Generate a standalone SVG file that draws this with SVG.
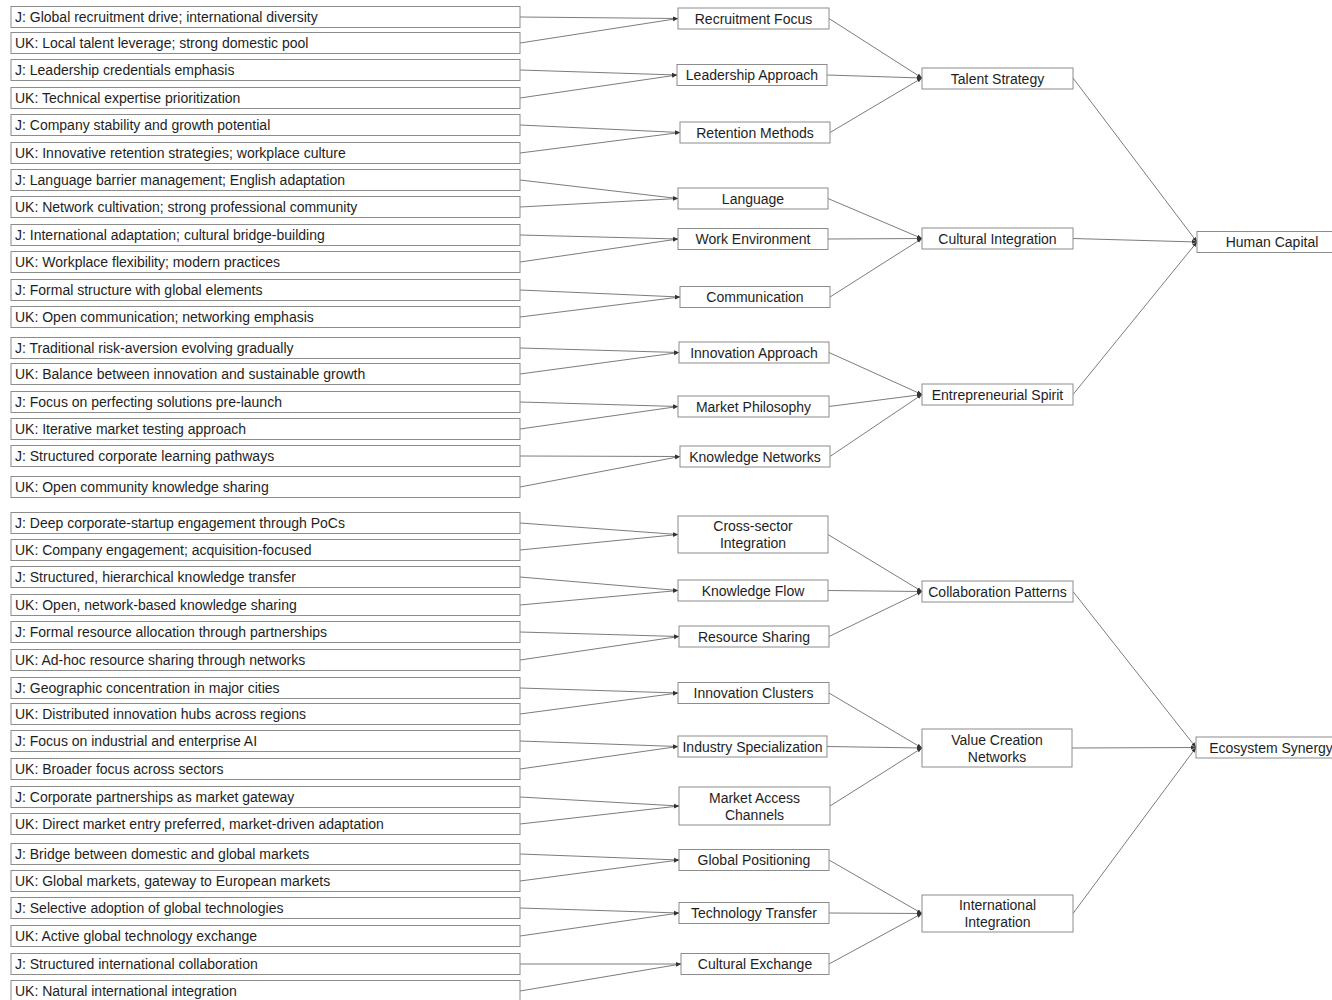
<svg xmlns="http://www.w3.org/2000/svg" width="1332" height="1000" viewBox="0 0 1332 1000">
<style>
.box{fill:#fff;stroke:#8c8c8c;stroke-width:1}
.lt{font-family:"Liberation Sans",Arial,sans-serif;font-size:14px;fill:#1e1e1e;dominant-baseline:central}
.ct{font-family:"Liberation Sans",Arial,sans-serif;font-size:14px;fill:#1e1e1e;text-anchor:middle;dominant-baseline:central}
.e{stroke:#5a5a5a;stroke-width:0.8;fill:none;marker-end:url(#ah)}
</style>
<defs>
<marker id="ah" markerUnits="userSpaceOnUse" markerWidth="6" markerHeight="5" refX="5" refY="2.5" orient="auto">
<path d="M0,0.5 L5,2.5 L0,4.5 z" fill="#333"/>
</marker>
</defs>
<rect width="1332" height="1000" fill="#fff"/>
<g id="connectors">
<line class="e" x1="520" y1="17" x2="678" y2="18.5"/>
<line class="e" x1="520" y1="43" x2="678" y2="18.5"/>
<line class="e" x1="520" y1="70" x2="677" y2="75"/>
<line class="e" x1="520" y1="98" x2="677" y2="75"/>
<line class="e" x1="520" y1="125" x2="680" y2="132.5"/>
<line class="e" x1="520" y1="153" x2="680" y2="132.5"/>
<line class="e" x1="520" y1="180" x2="678" y2="198.5"/>
<line class="e" x1="520" y1="207" x2="678" y2="198.5"/>
<line class="e" x1="520" y1="235" x2="678" y2="239"/>
<line class="e" x1="520" y1="262" x2="678" y2="239"/>
<line class="e" x1="520" y1="290" x2="680" y2="297"/>
<line class="e" x1="520" y1="317" x2="680" y2="297"/>
<line class="e" x1="520" y1="348" x2="679" y2="352.5"/>
<line class="e" x1="520" y1="374" x2="679" y2="352.5"/>
<line class="e" x1="520" y1="402" x2="678" y2="406.5"/>
<line class="e" x1="520" y1="429" x2="678" y2="406.5"/>
<line class="e" x1="520" y1="456" x2="680" y2="456.5"/>
<line class="e" x1="520" y1="487" x2="680" y2="456.5"/>
<line class="e" x1="520" y1="523" x2="678" y2="534.5"/>
<line class="e" x1="520" y1="550" x2="678" y2="534.5"/>
<line class="e" x1="520" y1="577" x2="678" y2="590.5"/>
<line class="e" x1="520" y1="605" x2="678" y2="590.5"/>
<line class="e" x1="520" y1="632" x2="679" y2="636.5"/>
<line class="e" x1="520" y1="660" x2="679" y2="636.5"/>
<line class="e" x1="520" y1="688" x2="678" y2="693"/>
<line class="e" x1="520" y1="714" x2="678" y2="693"/>
<line class="e" x1="520" y1="741" x2="678" y2="746.5"/>
<line class="e" x1="520" y1="769" x2="678" y2="746.5"/>
<line class="e" x1="520" y1="797" x2="679" y2="806"/>
<line class="e" x1="520" y1="824" x2="679" y2="806"/>
<line class="e" x1="520" y1="854" x2="679" y2="860"/>
<line class="e" x1="520" y1="881" x2="679" y2="860"/>
<line class="e" x1="520" y1="908" x2="679" y2="913"/>
<line class="e" x1="520" y1="936" x2="679" y2="913"/>
<line class="e" x1="520" y1="964" x2="681" y2="964"/>
<line class="e" x1="520" y1="991" x2="681" y2="964"/>
<line class="e" x1="829" y1="18.5" x2="922" y2="78"/>
<line class="e" x1="827" y1="75" x2="922" y2="78"/>
<line class="e" x1="830" y1="132.5" x2="922" y2="78"/>
<line class="e" x1="828" y1="198.5" x2="922" y2="238.5"/>
<line class="e" x1="828" y1="239" x2="922" y2="238.5"/>
<line class="e" x1="830" y1="297" x2="922" y2="238.5"/>
<line class="e" x1="829" y1="352.5" x2="922" y2="394.5"/>
<line class="e" x1="829" y1="406.5" x2="922" y2="394.5"/>
<line class="e" x1="830" y1="456.5" x2="922" y2="394.5"/>
<line class="e" x1="828" y1="534.5" x2="922" y2="591.5"/>
<line class="e" x1="828" y1="590.5" x2="922" y2="591.5"/>
<line class="e" x1="829" y1="636.5" x2="922" y2="591.5"/>
<line class="e" x1="829" y1="693" x2="922" y2="748"/>
<line class="e" x1="827" y1="746.5" x2="922" y2="748"/>
<line class="e" x1="830" y1="806" x2="922" y2="748"/>
<line class="e" x1="829" y1="860" x2="922" y2="913.5"/>
<line class="e" x1="829" y1="913" x2="922" y2="913.5"/>
<line class="e" x1="829" y1="964" x2="922" y2="913.5"/>
<line class="e" x1="1073" y1="78" x2="1197" y2="242"/>
<line class="e" x1="1073" y1="238.5" x2="1197" y2="242"/>
<line class="e" x1="1073" y1="394.5" x2="1197" y2="242"/>
<line class="e" x1="1073" y1="591.5" x2="1196" y2="747.5"/>
<line class="e" x1="1072" y1="748" x2="1196" y2="747.5"/>
<line class="e" x1="1073" y1="913.5" x2="1196" y2="747.5"/>
</g>
<g id="leaf1"><rect class="box" x="11" y="6.5" width="509" height="21"/><text class="lt" x="15" y="17">J: Global recruitment drive; international diversity</text></g>
<g id="leaf2"><rect class="box" x="11" y="32.5" width="509" height="21"/><text class="lt" x="15" y="43">UK: Local talent leverage; strong domestic pool</text></g>
<g id="leaf3"><rect class="box" x="11" y="59.5" width="509" height="21"/><text class="lt" x="15" y="70">J: Leadership credentials emphasis</text></g>
<g id="leaf4"><rect class="box" x="11" y="87.5" width="509" height="21"/><text class="lt" x="15" y="98">UK: Technical expertise prioritization</text></g>
<g id="leaf5"><rect class="box" x="11" y="114.5" width="509" height="21"/><text class="lt" x="15" y="125">J: Company stability and growth potential</text></g>
<g id="leaf6"><rect class="box" x="11" y="142.5" width="509" height="21"/><text class="lt" x="15" y="153">UK: Innovative retention strategies; workplace culture</text></g>
<g id="leaf7"><rect class="box" x="11" y="169.5" width="509" height="21"/><text class="lt" x="15" y="180">J: Language barrier management; English adaptation</text></g>
<g id="leaf8"><rect class="box" x="11" y="196.5" width="509" height="21"/><text class="lt" x="15" y="207">UK: Network cultivation; strong professional community</text></g>
<g id="leaf9"><rect class="box" x="11" y="224.5" width="509" height="21"/><text class="lt" x="15" y="235">J: International adaptation; cultural bridge-building</text></g>
<g id="leaf10"><rect class="box" x="11" y="251.5" width="509" height="21"/><text class="lt" x="15" y="262">UK: Workplace flexibility; modern practices</text></g>
<g id="leaf11"><rect class="box" x="11" y="279.5" width="509" height="21"/><text class="lt" x="15" y="290">J: Formal structure with global elements</text></g>
<g id="leaf12"><rect class="box" x="11" y="306.5" width="509" height="21"/><text class="lt" x="15" y="317">UK: Open communication; networking emphasis</text></g>
<g id="leaf13"><rect class="box" x="11" y="337.5" width="509" height="21"/><text class="lt" x="15" y="348">J: Traditional risk-aversion evolving gradually</text></g>
<g id="leaf14"><rect class="box" x="11" y="363.5" width="509" height="21"/><text class="lt" x="15" y="374">UK: Balance between innovation and sustainable growth</text></g>
<g id="leaf15"><rect class="box" x="11" y="391.5" width="509" height="21"/><text class="lt" x="15" y="402">J: Focus on perfecting solutions pre-launch</text></g>
<g id="leaf16"><rect class="box" x="11" y="418.5" width="509" height="21"/><text class="lt" x="15" y="429">UK: Iterative market testing approach</text></g>
<g id="leaf17"><rect class="box" x="11" y="445.5" width="509" height="21"/><text class="lt" x="15" y="456">J: Structured corporate learning pathways</text></g>
<g id="leaf18"><rect class="box" x="11" y="476.5" width="509" height="21"/><text class="lt" x="15" y="487">UK: Open community knowledge sharing</text></g>
<g id="leaf19"><rect class="box" x="11" y="512.5" width="509" height="21"/><text class="lt" x="15" y="523">J: Deep corporate-startup engagement through PoCs</text></g>
<g id="leaf20"><rect class="box" x="11" y="539.5" width="509" height="21"/><text class="lt" x="15" y="550">UK: Company engagement; acquisition-focused</text></g>
<g id="leaf21"><rect class="box" x="11" y="566.5" width="509" height="21"/><text class="lt" x="15" y="577">J: Structured, hierarchical knowledge transfer</text></g>
<g id="leaf22"><rect class="box" x="11" y="594.5" width="509" height="21"/><text class="lt" x="15" y="605">UK: Open, network-based knowledge sharing</text></g>
<g id="leaf23"><rect class="box" x="11" y="621.5" width="509" height="21"/><text class="lt" x="15" y="632">J: Formal resource allocation through partnerships</text></g>
<g id="leaf24"><rect class="box" x="11" y="649.5" width="509" height="21"/><text class="lt" x="15" y="660">UK: Ad-hoc resource sharing through networks</text></g>
<g id="leaf25"><rect class="box" x="11" y="677.5" width="509" height="21"/><text class="lt" x="15" y="688">J: Geographic concentration in major cities</text></g>
<g id="leaf26"><rect class="box" x="11" y="703.5" width="509" height="21"/><text class="lt" x="15" y="714">UK: Distributed innovation hubs across regions</text></g>
<g id="leaf27"><rect class="box" x="11" y="730.5" width="509" height="21"/><text class="lt" x="15" y="741">J: Focus on industrial and enterprise AI</text></g>
<g id="leaf28"><rect class="box" x="11" y="758.5" width="509" height="21"/><text class="lt" x="15" y="769">UK: Broader focus across sectors</text></g>
<g id="leaf29"><rect class="box" x="11" y="786.5" width="509" height="21"/><text class="lt" x="15" y="797">J: Corporate partnerships as market gateway</text></g>
<g id="leaf30"><rect class="box" x="11" y="813.5" width="509" height="21"/><text class="lt" x="15" y="824">UK: Direct market entry preferred, market-driven adaptation</text></g>
<g id="leaf31"><rect class="box" x="11" y="843.5" width="509" height="21"/><text class="lt" x="15" y="854">J: Bridge between domestic and global markets</text></g>
<g id="leaf32"><rect class="box" x="11" y="870.5" width="509" height="21"/><text class="lt" x="15" y="881">UK: Global markets, gateway to European markets</text></g>
<g id="leaf33"><rect class="box" x="11" y="897.5" width="509" height="21"/><text class="lt" x="15" y="908">J: Selective adoption of global technologies</text></g>
<g id="leaf34"><rect class="box" x="11" y="925.5" width="509" height="21"/><text class="lt" x="15" y="936">UK: Active global technology exchange</text></g>
<g id="leaf35"><rect class="box" x="11" y="953.5" width="509" height="21"/><text class="lt" x="15" y="964">J: Structured international collaboration</text></g>
<g id="leaf36"><rect class="box" x="11" y="980.5" width="509" height="21"/><text class="lt" x="15" y="991">UK: Natural international integration</text></g>
<g id="recruitment-focus"><rect class="box" x="678" y="8" width="151" height="21"/><text class="ct" x="753.5" y="18.5">Recruitment Focus</text></g>
<g id="leadership-approach"><rect class="box" x="677" y="64.5" width="150" height="21"/><text class="ct" x="752" y="75">Leadership Approach</text></g>
<g id="retention-methods"><rect class="box" x="680" y="122" width="150" height="21"/><text class="ct" x="755" y="132.5">Retention Methods</text></g>
<g id="language"><rect class="box" x="678" y="188" width="150" height="21"/><text class="ct" x="753" y="198.5">Language</text></g>
<g id="work-environment"><rect class="box" x="678" y="228.5" width="150" height="21"/><text class="ct" x="753" y="239">Work Environment</text></g>
<g id="communication"><rect class="box" x="680" y="286.5" width="150" height="21"/><text class="ct" x="755" y="297">Communication</text></g>
<g id="innovation-approach"><rect class="box" x="679" y="342" width="150" height="21"/><text class="ct" x="754" y="352.5">Innovation Approach</text></g>
<g id="market-philosophy"><rect class="box" x="678" y="396" width="151" height="21"/><text class="ct" x="753.5" y="406.5">Market Philosophy</text></g>
<g id="knowledge-networks"><rect class="box" x="680" y="446" width="150" height="21"/><text class="ct" x="755" y="456.5">Knowledge Networks</text></g>
<g id="cross-sector-integration"><rect class="box" x="678" y="516" width="150" height="37"/><text class="ct" x="753" y="526">Cross-sector</text><text class="ct" x="753" y="543">Integration</text></g>
<g id="knowledge-flow"><rect class="box" x="678" y="580" width="150" height="21"/><text class="ct" x="753" y="590.5">Knowledge Flow</text></g>
<g id="resource-sharing"><rect class="box" x="679" y="626" width="150" height="21"/><text class="ct" x="754" y="636.5">Resource Sharing</text></g>
<g id="innovation-clusters"><rect class="box" x="678" y="682.5" width="151" height="21"/><text class="ct" x="753.5" y="693">Innovation Clusters</text></g>
<g id="industry-specialization"><rect class="box" x="678" y="736" width="149" height="21"/><text class="ct" x="752.5" y="746.5">Industry Specialization</text></g>
<g id="market-access-channels"><rect class="box" x="679" y="787" width="151" height="38"/><text class="ct" x="754.5" y="797.5">Market Access</text><text class="ct" x="754.5" y="814.5">Channels</text></g>
<g id="global-positioning"><rect class="box" x="679" y="849.5" width="150" height="21"/><text class="ct" x="754" y="860">Global Positioning</text></g>
<g id="technology-transfer"><rect class="box" x="679" y="902.5" width="150" height="21"/><text class="ct" x="754" y="913">Technology Transfer</text></g>
<g id="cultural-exchange"><rect class="box" x="681" y="953.5" width="148" height="21"/><text class="ct" x="755" y="964">Cultural Exchange</text></g>
<g id="talent-strategy"><rect class="box" x="922" y="68" width="151" height="21"/><text class="ct" x="997.5" y="78.5">Talent Strategy</text></g>
<g id="cultural-integration"><rect class="box" x="922" y="228" width="151" height="21"/><text class="ct" x="997.5" y="238.5">Cultural Integration</text></g>
<g id="entrepreneurial-spirit"><rect class="box" x="922" y="384" width="151" height="21"/><text class="ct" x="997.5" y="394.5">Entrepreneurial Spirit</text></g>
<g id="collaboration-patterns"><rect class="box" x="922" y="581" width="151" height="21"/><text class="ct" x="997.5" y="591.5">Collaboration Patterns</text></g>
<g id="value-creation-networks"><rect class="box" x="922" y="729" width="150" height="38"/><text class="ct" x="997" y="739.5">Value Creation</text><text class="ct" x="997" y="756.5">Networks</text></g>
<g id="international-integration"><rect class="box" x="922" y="895" width="151" height="37"/><text class="ct" x="997.5" y="905">International</text><text class="ct" x="997.5" y="922">Integration</text></g>
<g id="human-capital"><rect class="box" x="1197" y="231.5" width="150" height="21"/><text class="ct" x="1272" y="242">Human Capital</text></g>
<g id="ecosystem-synergy"><rect class="box" x="1196" y="737" width="150" height="21"/><text class="ct" x="1271" y="747.5">Ecosystem Synergy</text></g>
</svg>
